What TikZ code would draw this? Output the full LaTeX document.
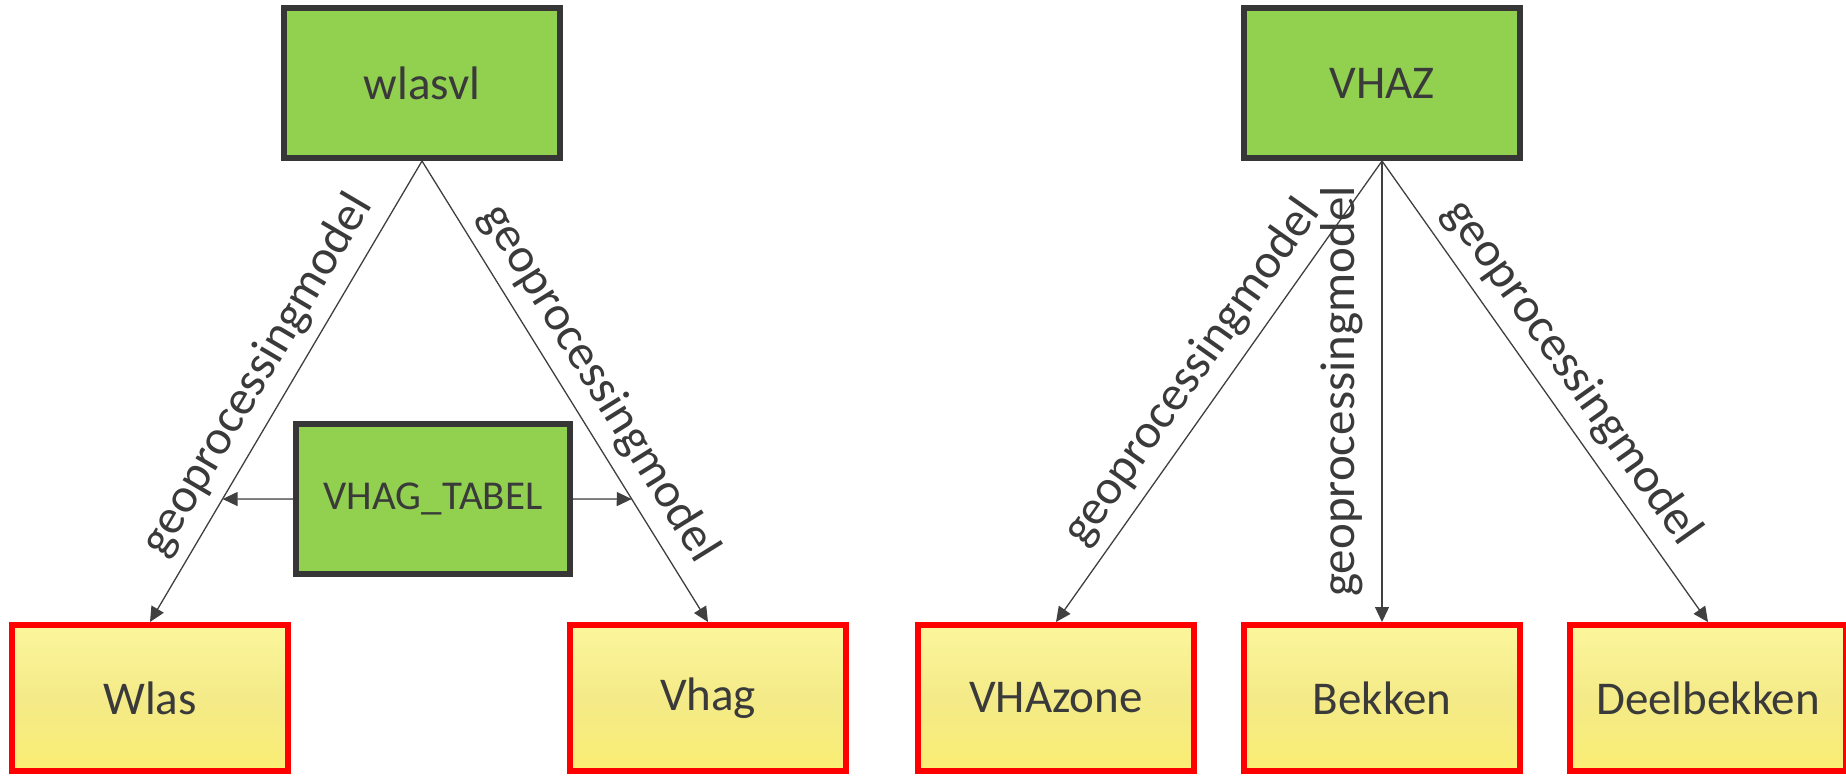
\documentclass[tikz,border=0pt]{standalone}
\usepackage{fontspec}
\setmainfont{Carlito}
\usepackage{tikz}
\usetikzlibrary{arrows.meta,calc}
\definecolor{boxgreen}{HTML}{92D050}
\definecolor{boxline}{HTML}{363636}
\definecolor{txtgray}{HTML}{3A3A3A}
\definecolor{yeltop}{HTML}{FCF69C}
\definecolor{yelmid}{HTML}{F4EA88}
\definecolor{yelbot}{HTML}{FAEE74}
\definecolor{edgegray}{HTML}{404040}

\begin{document}
\begin{tikzpicture}[x=1pt, y=-1pt, >={Triangle[length=15pt,width=14pt]},
  srcbox/.style={draw=boxline, line width=6pt, fill=boxgreen, minimum width=276pt, minimum height=150pt, text=txtgray, font=\fontsize{47}{56}\selectfont},
  tgtbox/.style={draw=red, line width=6pt, top color=yeltop, bottom color=yelbot, middle color=yelmid, minimum width=276pt, minimum height=146pt, text=txtgray, font=\fontsize{47}{56}\selectfont},
  edge/.style={->, draw=edgegray, fill=edgegray, line width=1.3pt},
  lbl/.style={midway, above, text=txtgray, inner sep=11pt, font=\fontsize{49}{58}\selectfont}]
  \useasboundingbox (0,0) rectangle (1846,777);
  % Nodes
  \node[srcbox](wlasvl) at (422,83) {wlasvl};
  \node[srcbox](VHAZ) at (1382,83) {VHAZ};
  \node[srcbox, minimum width=274pt, font=\fontsize{41}{49}\selectfont](tabel) at (433,499) {VHAG\_TABEL};
  \node[tgtbox](Wlas) at (150,698) {Wlas};
  \node[tgtbox](Vhag) at (708,698) {Vhag};
  \node[tgtbox](VHAzone) at (1056,698) {VHAzone};
  \node[tgtbox](Bekken) at (1382,698) {Bekken};
  \node[tgtbox](Deelbekken) at (1708,698) {Deelbekken};
  % Edges
  \draw[edge] (wlasvl.south) -- node[lbl, sloped]{geoprocessingmodel} (Wlas.north);
  \draw[edge] (wlasvl.south) -- node[lbl, sloped, pos=0.52]{geoprocessingmodel} (Vhag.north);
  \draw[edge] (VHAZ.south) -- node[lbl, sloped]{geoprocessingmodel} (VHAzone.north);
  \draw[edge] (VHAZ.south) -- node[lbl, rotate=90, inner sep=18pt]{geoprocessingmodel} (Bekken.north);
  \draw[edge] (VHAZ.south) -- node[lbl, sloped]{geoprocessingmodel} (Deelbekken.north);
  \coordinate (lhit) at (intersection of wlasvl.south--Wlas.north and tabel.west--tabel.east);
  \coordinate (rhit) at (intersection of wlasvl.south--Vhag.north and tabel.west--tabel.east);
  \draw[edge] (tabel.west) -- (lhit);
  \draw[edge] (tabel.east) -- (rhit);
\end{tikzpicture}
\end{document}
